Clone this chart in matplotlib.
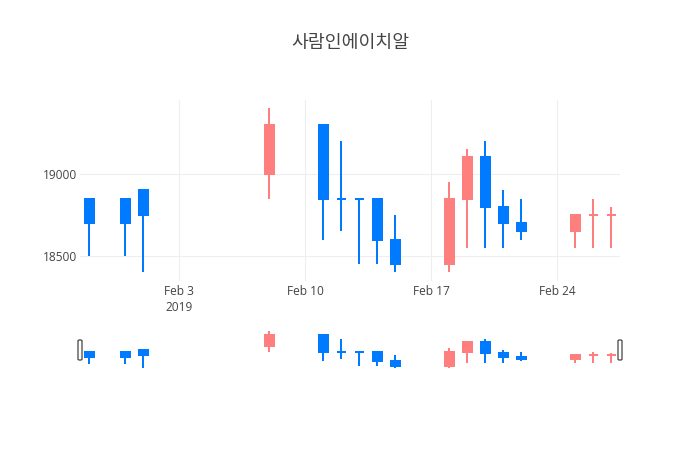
import matplotlib
matplotlib.use('Agg')
import matplotlib.pyplot as plt
import matplotlib.dates as mdates
from matplotlib.patches import FancyBboxPatch
import pandas as pd

title = '사람인에이치알'

dates = ['2019-01-29', '2019-01-31', '2019-02-01', '2019-02-08', '2019-02-11',
         '2019-02-12', '2019-02-13', '2019-02-14', '2019-02-15', '2019-02-18',
         '2019-02-19', '2019-02-20', '2019-02-21', '2019-02-22', '2019-02-25',
         '2019-02-26', '2019-02-27']
opens = [18850, 18850, 18900, 19000, 19300, 18850, 18850, 18850, 18600,
         18450, 18850, 19100, 18800, 18700, 18650, 18750, 18750]
highs = [18850, 18850, 18900, 19400, 19300, 19200, 18850, 18850, 18750,
         18950, 19150, 19200, 18900, 18850, 18750, 18850, 18800]
lows = [18500, 18500, 18400, 18850, 18600, 18650, 18450, 18450, 18400,
        18400, 18550, 18550, 18550, 18600, 18550, 18550, 18550]
closes = [18700, 18700, 18750, 19300, 18850, 18850, 18850, 18600, 18450,
          18850, 19100, 18800, 18700, 18650, 18750, 18750, 18750]

x_ticks = ['2019-02-03', '2019-02-10', '2019-02-17', '2019-02-24']
x_tick_labels = ['Feb 3\n2019', 'Feb 10', 'Feb 17', 'Feb 24']
y_ticks = [18500, 19000]

up_color = '#ff7f7f'
down_color = '#007bff'
text_color = '#444444'

# direction like plotly: ties compare with previous close, else keep previous
colors = []
prev_close = None
prev_up = False
for o, c in zip(opens, closes):
    if c > o:
        up = True
    elif c < o:
        up = False
    elif prev_close is not None and c != prev_close:
        up = c > prev_close
    else:
        up = prev_up
    colors.append(up_color if up else down_color)
    prev_close = c
    prev_up = up

x = mdates.date2num(pd.to_datetime(dates))
x_min = mdates.date2num(pd.Timestamp('2019-01-28 12:00'))
x_max = mdates.date2num(pd.Timestamp('2019-02-27 12:00'))
y_min, y_max = 18350, 19450

W, H = 700, 450
fig = plt.figure(figsize=(7, 4.5), dpi=100)
ax = fig.add_axes([80 / W, 1 - 280.6 / H, 540 / W, 180.6 / H])
ax2 = fig.add_axes([80 / W, 1 - 370 / H, 540 / W, 40.5 / H])


def draw_candles(a):
    a.vlines(x, lows, highs, colors=colors, linewidth=1.44, zorder=2)
    a.bar(x, [c - o for o, c in zip(opens, closes)], bottom=opens, width=0.5,
          color=colors, edgecolor=colors, linewidth=1.44, zorder=3)
    a.set_xlim(x_min, x_max)
    a.set_ylim(y_min, y_max)
    for s in a.spines.values():
        s.set_visible(False)


draw_candles(ax)
draw_candles(ax2)

ax.set_xticks(mdates.date2num(pd.to_datetime(x_ticks)))
ax.set_xticklabels(x_tick_labels, linespacing=1.3)
ax.set_yticks(y_ticks)
ax.set_yticklabels([str(v) for v in y_ticks])
ax.tick_params(length=0, labelsize=8.6, labelcolor=text_color)
ax.tick_params(axis='x', pad=3.5)
ax.tick_params(axis='y', pad=2)
for lab in ax.get_xticklabels() + ax.get_yticklabels():
    lab.set_family(['Open Sans', 'DejaVu Sans'])
ax.grid(True, color='#eeeeee', linewidth=0.75, zorder=0)
ax.set_axisbelow(True)

ax2.set_xticks([])
ax2.set_yticks([])

# range slider grabbers
for px in (80, 620):
    fig.add_artist(FancyBboxPatch(((px - 2) / W, 1 - 360 / H), 4 / W, 20 / H,
                                  boxstyle='round,pad=0,rounding_size=0.002',
                                  transform=fig.transFigure, facecolor='white',
                                  edgecolor=text_color, linewidth=0.9))

fig.text(0.5, 1 - 43 / H, title, ha='center', va='center', fontsize=13.2,
         color=text_color, family=['Open Sans', 'Noto Sans CJK KR'])

fig.savefig('out.png', dpi=100)
